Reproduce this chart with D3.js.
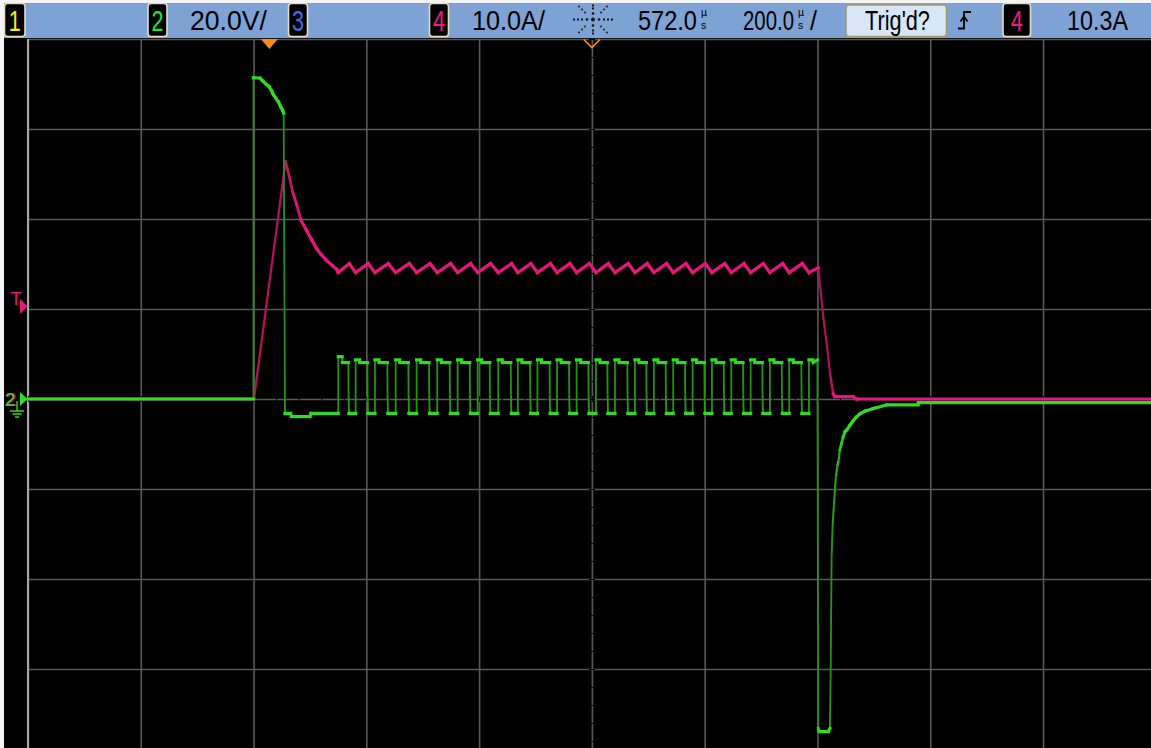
<!DOCTYPE html>
<html><head><meta charset="utf-8">
<script src="https://cdn.jsdelivr.net/npm/d3@7"></script>
<style>html,body{margin:0;padding:0;background:#000;overflow:hidden}</style>
</head><body>
<svg id="scope" width="1151" height="748"></svg>
<script>
// ---- acquisition settings ----
const timebaseUsPerDiv = 200;
const delayUs = 572;
const voltsPerDiv = 20;   // channel 2
const ampsPerDiv = 10;    // channel 4
const triggerLevelA = 10.3;

// ---- channel 2 (voltage): turn-on transient before switching starts ----
const leadT = [-428, -28.2, -28.2, -16.7, -11.9, -6.0, -0.2, 4.1, 6.9, 11.7, 15.8, 20.0, 23.6, 25.4, 27.7, 37.8, 39.2, 72.0, 73.8];
const leadV = [0, 0, 71.4, 71.3, 70.7, 70.0, 69.4, 68.5, 67.7, 66.8, 66.1, 65.0, 64.1, 63.5, -3.2, -3.2, -3.9, -3.9, -3.2];

// switching edges (µs): rising edges and the instants the low level is reached
const gateRiseUs = [122.2, 153.0, 187.3, 224.0, 261.2, 297.7, 333.9, 369.4, 405.9, 440.7, 475.4, 510.2,
                    544.9, 579.2, 612.9, 648.3, 682.0, 716.2, 750.6, 784.9, 819.1, 853.5, 887.7, 921.9, 956.9];
const gateFallUs = [141.7, 175.4, 210.8, 248.1, 284.8, 321.5, 357.0, 392.4, 429.7, 463.9, 498.5, 533.0,
                    567.3, 601.0, 636.4, 670.1, 704.5, 738.7, 773.0, 807.4, 841.6, 875.8, 910.2, 945.0];
const gateTopV = [9.4, 8.7, 8.7, 8.7, 8.7, 8.7, 8.7, 8.7, 8.7, 8.7, 8.7, 8.7,
                  8.7, 8.7, 8.7, 8.7, 8.7, 8.7, 8.7, 8.7, 8.7, 8.7, 8.7, 8.7, 8.7];
const gatePlateauV = 8.1;
const gateLowV = -3.2;

// turn-off clamp and recovery
const tailT = [971.9, 973.4, 975.2, 991.1, 994.1, 995.3, 997.1, 998.9, 1001.2, 1003.0, 1004.7, 1007.1, 1009.5, 1011.8,
               1014.9, 1017.7, 1020.7, 1023.7, 1029.6, 1034.4, 1040.2, 1047.3, 1056.2, 1070.9, 1094.7, 1150.7, 1150.7, 1572];
const tailV = [8.7, -73.1, -73.9, -73.9, -73.2, -62.4, -35.0, -28.0, -23.6, -20.1, -17.4, -15.0, -13.6, -11.3,
               -9.8, -8.4, -7.3, -6.9, -5.8, -5.0, -4.1, -3.3, -2.7, -2.1, -1.3, -1.3, -0.8, -0.8];

// ---- channel 4 (current) ----
const leadTI = [-428, -27.3, 28.7, 35.3, 41.3, 48.4, 56.0, 66.1, 75.0, 83.9, 92.7, 101.6, 110.5, 119.3];
const leadI = [0, 0, 26.4, 24.7, 23.0, 21.6, 19.9, 18.7, 17.7, 16.7, 16.0, 15.4, 14.9, 14.4];
const rippleI = [14.05, 15.05];          // trough, peak
const tailTI = [973.4, 976.3, 979.3, 982.2, 985.2, 988.2, 991.1, 994.1, 997.1, 1000.0, 1003.0, 1035.0, 1041.5, 1572];
const tailI = [14.6, 12.9, 11.0, 9.2, 7.7, 6.2, 4.7, 2.9, 1.7, 0.56, 0.26, 0.26, 0, 0];

// ---- screen geometry ----
const W = 1151, H = 748;
const plot = {left: 28, top: 39, divW: 112.78, divH: 90};
const xMin = delayUs - 5 * timebaseUsPerDiv, xMax = delayUs + 5 * timebaseUsPerDiv;
const x = d3.scaleLinear().domain([xMin, xMax]).range([plot.left, plot.left + 10 * plot.divW]);
const yV = d3.scaleLinear().domain([-4 * voltsPerDiv, 4 * voltsPerDiv]).range([plot.top + 8 * plot.divH, plot.top]);
const yI = d3.scaleLinear().domain([-4 * ampsPerDiv, 4 * ampsPerDiv]).range([plot.top + 8 * plot.divH, plot.top]);

const svg = d3.select('#scope');
svg.append('rect').attr('width', W).attr('height', H).attr('fill', '#f4f4f4');
svg.append('rect').attr('x', 4).attr('y', 38).attr('width', W - 4).attr('height', H - 38).attr('fill', '#000');

// ---- graticule ----
const grid = svg.append('g');
const gridX = d3.axisTop(x).tickValues(d3.range(xMin, xMax + 1, timebaseUsPerDiv))
  .tickSize(-(H - plot.top)).tickFormat('');
const gridY = d3.axisLeft(yV).tickValues(d3.range(-4 * voltsPerDiv, 4 * voltsPerDiv + 1, voltsPerDiv))
  .tickSize(-(W - plot.left)).tickFormat('');
grid.append('g').attr('transform', `translate(0,${plot.top})`).call(gridX);
grid.append('g').attr('transform', `translate(${plot.left},0)`).call(gridY);
grid.selectAll('.domain').remove();
grid.selectAll('.tick line').attr('stroke', '#595959').attr('stroke-width', 1.6);
// left border of the graticule
grid.append('line').attr('x1', plot.left).attr('x2', plot.left).attr('y1', plot.top).attr('y2', H)
  .attr('stroke', '#a8a8a8').attr('stroke-width', 2);

// minor ticks on the centre axes
const cx = x(delayUs), cy = yV(0);
const minorX = d3.axisBottom(x).tickValues(d3.range(xMin, xMax + 1, timebaseUsPerDiv / 5)).tickSize(6).tickFormat('');
const minorY = d3.axisRight(yV).tickValues(d3.range(-4 * voltsPerDiv, 4 * voltsPerDiv + 1, voltsPerDiv / 5)).tickSize(6).tickFormat('');
grid.append('g').attr('transform', `translate(0,${cy - 3})`).call(minorX);
grid.append('g').attr('transform', `translate(${cx - 3},0)`).call(minorY);
grid.selectAll('.domain').remove();
grid.selectAll('.tick line').filter(function () { return !this.getAttribute('stroke'); })
  .attr('stroke', '#595959').attr('stroke-width', 1.4);

// ---- build traces ----
const vPts = leadT.map((t, i) => [t, leadV[i]]);
gateRiseUs.forEach((r, i) => {
  const top = gateTopV[i];
  vPts.push([r, gateLowV], [r, top], [r + 7, top], [r + 7.3, gatePlateauV]);
  if (i < gateFallUs.length) {
    const f = gateFallUs[i];
    vPts.push([f - 1.6, gatePlateauV], [f - 1.2, 1.0], [f - 0.5, gateLowV], [f, gateLowV]);
  }
});
tailT.forEach((t, i) => vPts.push([t, tailV[i]]));

const iPts = leadTI.map((t, i) => [t, leadI[i]]);
gateRiseUs.forEach((r, i) => {
  iPts.push([r, rippleI[0]]);
  if (i < gateFallUs.length) iPts.push([gateFallUs[i], rippleI[1]]);
});
tailTI.forEach((t, i) => iPts.push([t, tailI[i]]));

// draw a trace with intensity grading: steep edges are dim and thin
function drawTrace(pts, yScale, bright, dim) {
  const px = pts.map(d => [x(d[0]), yScale(d[1])]);
  const segs = [];
  for (let i = 1; i < px.length; i++) {
    const [x0, y0] = px[i - 1], [x1, y1] = px[i];
    const s = Math.abs(y1 - y0) / Math.max(Math.abs(x1 - x0), 0.3);
    const f = Math.max(0, Math.min(1, 2.6 / s));
    segs.push({x0, y0, x1, y1, f});
  }
  segs.sort((a, b) => a.f - b.f);
  const mix = d3.interpolateRgb(dim, bright);
  const g = svg.append('g');
  g.selectAll('line').data(segs).join('line')
    .attr('x1', d => d.x0).attr('y1', d => d.y0).attr('x2', d => d.x1).attr('y2', d => d.y1)
    .attr('stroke', d => mix(d.f))
    .attr('stroke-width', d => 1.8 + 1.4 * d.f)
    .attr('stroke-linecap', d => d.f > 0.6 ? 'square' : 'butt');
}
drawTrace(iPts, yI, '#e8157c', '#9a0e50');
drawTrace(vPts, yV, '#30dc1e', '#259014');

// ---- left-edge markers ----
const font = 'Liberation Sans, Arial, sans-serif';
const yT = yI(triggerLevelA);
svg.append('text').attr('x', 16).attr('y', yT - 1).attr('text-anchor', 'middle')
  .attr('font-family', font).attr('font-size', 19).attr('fill', '#e8157c').text('T');
svg.append('path').attr('d', `M20,${yT - 7.5}L27.5,${yT}L20,${yT + 7.5}Z`).attr('fill', '#e8157c');

const y0 = yV(0);
svg.append('text').attr('x', 11).attr('y', y0 + 7).attr('text-anchor', 'middle')
  .attr('font-family', font).attr('font-size', 19).attr('font-weight', 'bold')
  .attr('fill', '#e8157c').text('2');
svg.append('text').attr('x', 10).attr('y', y0 + 7).attr('text-anchor', 'middle')
  .attr('font-family', font).attr('font-size', 19)
  .attr('fill', '#30dc1e').text('2');
svg.append('path').attr('d', `M20,${y0 - 7}L27.5,${y0}L20,${y0 + 7}Z`).attr('fill', '#30dc1e');
svg.append('path').attr('d', `M17,${y0 + 2}V${y0 + 12}M10,${y0 + 12}H24M12.5,${y0 + 15}H21.5M15,${y0 + 18}H19`)
  .attr('stroke', '#30dc1e').attr('stroke-width', 1.4).attr('fill', 'none');

// ---- header bar ----
const hdr = svg.append('g');
hdr.append('rect').attr('x', 4).attr('y', 3).attr('width', W - 4).attr('height', 35).attr('fill', '#7ea2d3');

// text squeezed horizontally to a given width
function fitText(parent, x0, y0, w, str, size, color, anchor = 'start') {
  const t = parent.append('text').attr('font-family', font).attr('font-size', size)
    .attr('fill', color).attr('text-anchor', anchor).text(str);
  const n = t.node().getComputedTextLength();
  t.attr('transform', `translate(${x0},${y0}) scale(${w / n},1)`);
  return t;
}
function chanBox(x0, w, label, color) {
  hdr.append('rect').attr('x', x0).attr('y', 3.5).attr('width', w).attr('height', 33).attr('rx', 3)
    .attr('fill', '#000').attr('stroke', '#e4dcc4').attr('stroke-width', 1.6);
  fitText(hdr, x0 + w / 2, 31, 12, label, 30, color, 'middle');
}
function hText(x0, w, str) { fitText(hdr, x0, 29.5, w, str, 27, '#000'); }
// stacked "µ over s" unit as one text element
function usUnit(x0) {
  const t = hdr.append('text').attr('font-family', font).attr('font-size', 10.5).attr('fill', '#000');
  t.append('tspan').attr('x', x0).attr('y', 15.5).text('µ');
  t.append('tspan').attr('x', x0).attr('y', 29).text('s');
}
chanBox(4.5, 20.5, '1', '#f2ee1c');
chanBox(148, 19, '2', '#30e030');
hText(190, 77, voltsPerDiv.toFixed(1) + 'V/');
chanBox(288.5, 19, '3', '#3d6ef2');
chanBox(429.5, 19, '4', '#f0197f');
hText(472, 73, ampsPerDiv.toFixed(1) + 'A/');

// run indicator
const icon = hdr.append('g').attr('transform', 'translate(593,19.5)').attr('fill', '#111');
icon.append('circle').attr('r', 1.9);
[[6, 0], [-6, 0], [0, 6], [0, -6]].forEach(([a, b]) => icon.append('circle').attr('cx', a).attr('cy', b).attr('r', 1.3));
[[11, 0], [15, 0], [19, 0], [0, 11], [0, 14], [8, 7], [11, 10], [14, 13]].forEach(([a, b]) => {
  [[1, 1], [-1, 1], [1, -1], [-1, -1]].forEach(([sx, sy]) =>
    icon.append('circle').attr('cx', a * sx).attr('cy', b * sy).attr('r', 0.9));
});

hText(638, 59, delayUs.toFixed(1));
usUnit(701);
hText(743, 51, timebaseUsPerDiv.toFixed(1));
usUnit(798);
hText(810, 7, '/');

hdr.append('rect').attr('x', 846).attr('y', 5).attr('width', 100.5).attr('height', 31.5).attr('rx', 3)
  .attr('fill', '#d7e5f6').attr('stroke', '#a39c72').attr('stroke-width', 1.6);
hText(865, 65, "Trig'd?");
// rising-edge symbol
hdr.append('path').attr('d', 'M958,28.5H964V12H971M960.5,21.5L964,16.5L967.5,21.5')
  .attr('stroke', '#000').attr('stroke-width', 1.8).attr('fill', 'none');
chanBox(1003, 27.5, '4', '#f0197f');
hText(1067, 61, triggerLevelA.toFixed(1) + 'A');

// ---- trigger position and delay reference markers ----
const xTrig = x(0);
svg.append('path').attr('d', `M${xTrig - 8.5},39L${xTrig + 8.5},39L${xTrig},49Z`).attr('fill', '#ff8c1a');
svg.append('path').attr('d', `M${cx - 8},39.5L${cx},47.5L${cx + 8},39.5`)
  .attr('stroke', '#ff8c1a').attr('stroke-width', 1.6).attr('fill', 'none');
</script>
</body></html>
